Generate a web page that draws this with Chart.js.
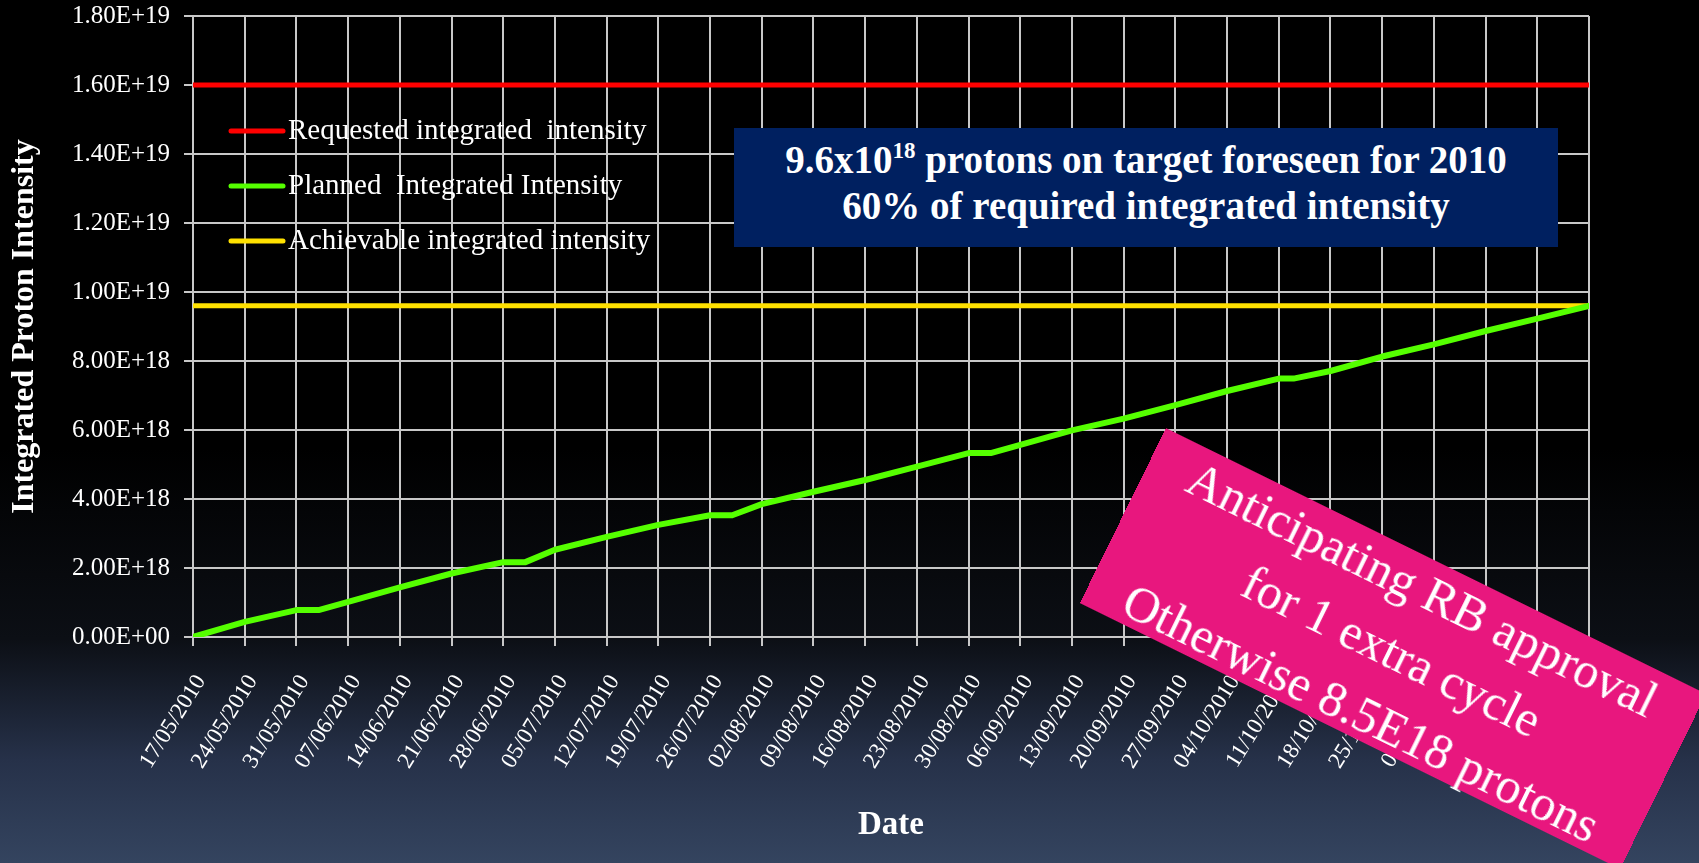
<!DOCTYPE html>
<html>
<head>
<meta charset="utf-8">
<title>Integrated Proton Intensity 2010</title>
<script src="https://cdn.jsdelivr.net/npm/chart.js@4.4.1/dist/chart.umd.min.js"></script>
<style>
  html, body {
    margin: 0; padding: 0; width: 1699px; height: 863px; overflow: hidden;
    background: linear-gradient(to bottom, #000 0%, #000 52%, #0c0f15 74%, #263149 88%, #34445f 100%);
  }
  #wrap { position: absolute; left: 0; top: 0; width: 1699px; height: 863px; }
  .note { position: absolute; color: #fff; font-family: "Liberation Serif", serif; text-align: center; }
  #blueNote {
    left: 734px; top: 128px; width: 824px; height: 119px; box-sizing: border-box;
    padding-top: 9px; background: #002060; font-weight: bold; font-size: 39px; line-height: 46px;
  }
  #blueNote sup { font-size: 23px; vertical-align: 15px; line-height: 0; }
  #pinkNote {
    left: 1092px; top: 551px; width: 602px; height: 195px;
    background: #e8177e; font-size: 50px; line-height: 69px;
    transform: rotate(26.2deg);
  }
  #pinkNote div { position: relative; top: -3px; white-space: nowrap; }
</style>
</head>
<body>
<div id="wrap"><canvas id="myChart" width="1699" height="863"></canvas></div>
<div class="note" id="blueNote">9.6x10<sup>18</sup> protons on target foreseen for 2010<br>60% of required integrated intensity</div>
<div class="note" id="pinkNote"><div>Anticipating RB approval<br>for 1 extra cycle<br>Otherwise 8.5E18 protons</div></div>
<script>
// --- Data ---
const weekLabels = ['17/05/2010', '24/05/2010', '31/05/2010', '07/06/2010', '14/06/2010', '21/06/2010', '28/06/2010',
  '05/07/2010', '12/07/2010', '19/07/2010', '26/07/2010', '02/08/2010', '09/08/2010', '16/08/2010', '23/08/2010',
  '30/08/2010', '06/09/2010', '13/09/2010', '20/09/2010', '27/09/2010', '04/10/2010', '11/10/2010', '18/10/2010',
  '25/10/2010', '01/11/2010', '08/11/2010', '15/11/2010', '22/11/2010'];
const yTickLabels = ['0.00E+00', '2.00E+18', '4.00E+18', '6.00E+18', '8.00E+18', '1.00E+19', '1.20E+19', '1.40E+19', '1.60E+19', '1.80E+19'];

const seriesNames = ['Requested integrated  intensity', 'Planned  Integrated Intensity', 'Achievable integrated intensity'];
const seriesColors = ['#ff0000', '#55ff00', '#ffe100'];

// days since 17/05/2010 and planned integrated intensity (units of 1E18)
const planDays = [0, 7, 14, 17, 21, 28, 35, 42, 45, 49, 56, 63, 70, 73, 77, 84, 91, 98, 105, 108, 112, 119,
  126, 133, 140, 147, 149, 154, 161, 168, 175, 182, 189];
const plannedE18 = [0, 0.44, 0.78, 0.78, 1.02, 1.44, 1.84, 2.17, 2.17, 2.53, 2.90, 3.25, 3.53, 3.53, 3.85, 4.21,
  4.55, 4.94, 5.33, 5.33, 5.57, 5.99, 6.33, 6.72, 7.13, 7.49, 7.49, 7.71, 8.13, 8.48, 8.87, 9.23, 9.60];

const requestedLevel = 1.6e19;
const achievableLevel = 9.6e18;

// --- Chart ---
Chart.defaults.font.family = '"Liberation Serif", serif';
Chart.defaults.color = '#ffffff';

const firstDay = planDays[0];
const lastDay = planDays[planDays.length - 1];
const gridColor = '#c8c8c8';

// legend drawn inside the plot, like the slide
const legendInArea = {
  id: 'legendInArea',
  afterDatasetsDraw(chart) {
    const ctx = chart.ctx;
    const area = chart.chartArea;
    ctx.save();
    ctx.font = '29px "Liberation Serif", serif';
    ctx.textBaseline = 'middle';
    chart.data.datasets.forEach((ds, i) => {
      const y = area.top + 115 + i * 55;
      ctx.strokeStyle = ds.borderColor;
      ctx.lineWidth = 5;
      ctx.lineCap = 'round';
      ctx.beginPath();
      ctx.moveTo(area.left + 38, y);
      ctx.lineTo(area.left + 90, y);
      ctx.stroke();
      ctx.fillStyle = '#ffffff';
      ctx.fillText(ds.label, area.left + 95, y);
    });
    ctx.restore();
  }
};

new Chart(document.getElementById('myChart'), {
  type: 'line',
  data: {
    datasets: [
      {
        label: seriesNames[0],
        data: [{ x: firstDay, y: requestedLevel }, { x: lastDay, y: requestedLevel }],
        borderColor: seriesColors[0],
        borderWidth: 5
      },
      {
        label: seriesNames[1],
        data: planDays.map((d, i) => ({ x: d, y: plannedE18[i] * 1e18 })),
        borderColor: seriesColors[1],
        borderWidth: 6
      },
      {
        label: seriesNames[2],
        data: [{ x: firstDay, y: achievableLevel }, { x: lastDay, y: achievableLevel }],
        borderColor: seriesColors[2],
        borderWidth: 5
      }
    ]
  },
  options: {
    responsive: false,
    animation: false,
    layout: { padding: { top: 16, left: 0, right: 110, bottom: 0 } },
    elements: {
      point: { radius: 0 },
      line: { tension: 0, borderCapStyle: 'round', borderJoinStyle: 'round' }
    },
    plugins: {
      legend: { display: false },
      tooltip: { enabled: false }
    },
    scales: {
      x: {
        type: 'linear',
        min: firstDay,
        max: lastDay,
        afterFit: (scale) => { scale.height = 226; scale.paddingLeft = 0; scale.paddingRight = 0; },
        grid: { color: gridColor, lineWidth: 2, tickLength: 9, tickColor: gridColor },
        border: { color: gridColor, width: 2 },
        ticks: {
          stepSize: 7,
          autoSkip: false,
          maxRotation: 58,
          minRotation: 58,
          padding: 24,
          labelOffset: 8,
          font: { size: 23 },
          callback: (v) => weekLabels[Math.round(v / 7)]
        },
        title: {
          display: true,
          text: 'Date',
          font: { size: 33, weight: 'bold' },
          padding: { top: 0, bottom: 18 }
        }
      },
      y: {
        min: 0,
        max: 1.8e19,
        afterFit: (scale) => { scale.width = 193; scale.paddingTop = 0; scale.paddingBottom = 0; },
        grid: { color: gridColor, lineWidth: 2, tickLength: 9, tickColor: gridColor },
        border: { color: gridColor, width: 2 },
        ticks: {
          stepSize: 2e18,
          padding: 14,
          font: { size: 25 },
          callback: (v) => yTickLabels[Math.round(v / 2e18)]
        },
        title: {
          display: true,
          text: 'Integrated Proton Intensity',
          font: { size: 32, weight: 'bold' },
          padding: { top: 6, bottom: 0 }
        }
      }
    }
  },
  plugins: [legendInArea]
});
</script>
</body>
</html>
